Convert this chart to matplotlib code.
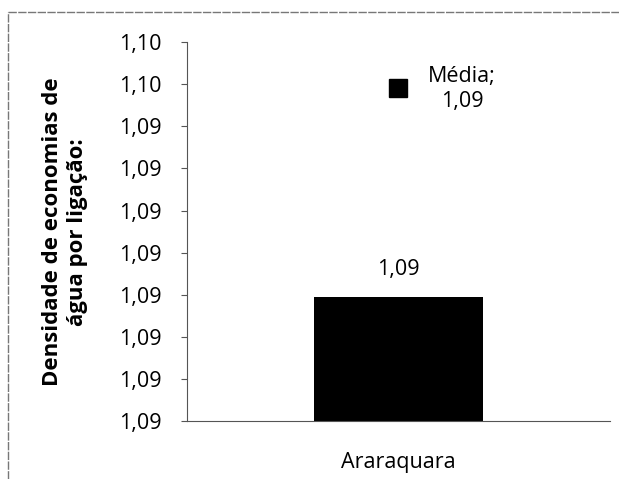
import matplotlib
matplotlib.use("Agg")
import matplotlib.pyplot as plt
from matplotlib.lines import Line2D

plt.rcParams['font.family'] = ['Open Sans', 'DejaVu Sans']

categories = ["Araraquara"]
values = [1.09247]
media_value = 1.09496
y_ticks = [1.0910, 1.0915, 1.0920, 1.0925, 1.0930, 1.0935, 1.0940, 1.0945, 1.0950, 1.0955]
y_tick_labels = ["1,09", "1,09", "1,09", "1,09", "1,09", "1,09", "1,09", "1,09", "1,10", "1,10"]
bar_label = "1,09"
media_label = "Média;\n1,09"
ylabel = "Densidade de economias de\nágua por ligação:"

FS = 15.5

fig = plt.figure(figsize=(6.19, 4.79), dpi=100)
ax = fig.add_axes([0.302, 0.121, 0.683, 0.791])

x = list(range(len(categories)))
ax.bar(x, [v - y_ticks[0] for v in values], bottom=y_ticks[0], width=0.40, color="black")
ax.plot(x, [media_value], marker="s", markersize=13.5, color="black", linestyle="none")

ax.set_xlim(-0.5, 0.5)
ax.set_ylim(y_ticks[0], y_ticks[-1])
ax.set_yticks(y_ticks)
ax.set_yticklabels(y_tick_labels, fontsize=FS)
ax.set_xticks(x)
ax.set_xticklabels(categories, fontsize=FS)
ax.tick_params(axis='x', length=0, pad=22)
ax.tick_params(axis='y', length=4, width=0.8, pad=14, color="#555555")

for s in ["top", "right"]:
    ax.spines[s].set_visible(False)
ax.spines["left"].set_color("#555555")
ax.spines["bottom"].set_color("#555555")
ax.spines["left"].set_linewidth(0.8)
ax.spines["bottom"].set_linewidth(0.8)
ax.spines["left"].set_clip_on(False)

for xi, v in zip(x, values):
    ax.annotate(bar_label, (xi, v), xytext=(0, 20), textcoords="offset points",
                ha="center", va="center", fontsize=FS)

ax.annotate(media_label, (x[0], media_value), xytext=(46, -1), textcoords="offset points",
            ha="center", va="center", fontsize=FS, linespacing=1.2)

fig.text(0.105, 0.516, ylabel, rotation=90, ha="center", va="center",
         fontsize=16, fontweight="bold", linespacing=1.3)

# figure frame lines (top and left)
fig.add_artist(Line2D([0.013, 1.0], [0.975, 0.975], transform=fig.transFigure,
                      color="#777777", linewidth=1.0, linestyle=(0, (6, 1))))
fig.add_artist(Line2D([0.013, 0.013], [0.0, 0.975], transform=fig.transFigure,
                      color="#777777", linewidth=1.0, linestyle=(0, (6, 1))))

fig.savefig("out.png", dpi=100)
